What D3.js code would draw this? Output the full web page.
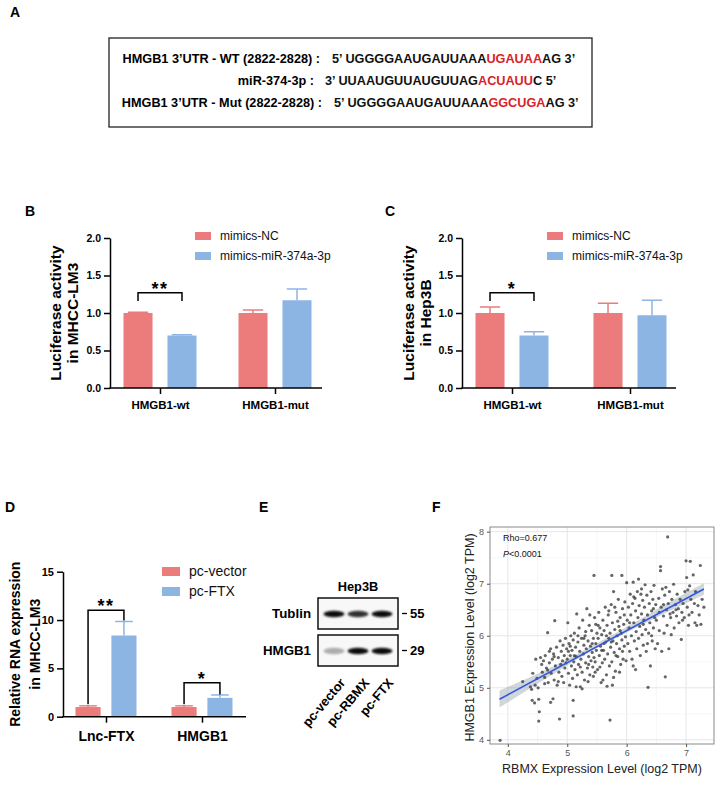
<!DOCTYPE html>
<html><head><meta charset="utf-8">
<script src="https://cdn.jsdelivr.net/npm/d3@7"></script>
<style>
body{margin:0;background:#fff}
svg{display:block}
text{font-family:Arial,'Liberation Sans',sans-serif}
</style>
</head><body>
<svg id="c" width="721" height="785"></svg>
<script>
// ---------------- DATA ----------------
const seqLabels = ["HMGB1 3’UTR - WT (2822-2828) :", "miR-374-3p  :", "HMGB1 3’UTR - Mut (2822-2828) :"];
const seqParts = [
  ["5’ UGGGGAAUGAUUAAA", "UGAUAA", "AG 3’"],
  ["3’ UUAAUGUUAUGUUAG", "ACUAUU", "C 5’"],
  ["5’ UGGGGAAUGAUUAAA", "GGCUGA", "AG 3’"]
];

const lucGroups = ["HMGB1-wt", "HMGB1-mut"];
const lucSeries = ["mimics-NC", "mimics-miR-374a-3p"];
const lucLM3Mean = [[1.00, 0.70], [1.00, 1.17]];
const lucLM3Err  = [[0.01, 0.01], [0.04, 0.15]];
const lucHep3BMean = [[1.00, 0.70], [1.00, 0.97]];
const lucHep3BErr  = [[0.08, 0.05], [0.13, 0.20]];
const lucTicks = [0, 0.5, 1.0, 1.5, 2.0];

const rnaGroups = ["Lnc-FTX", "HMGB1"];
const rnaSeries = ["pc-vector", "pc-FTX"];
const rnaMean = [[1.0, 8.4], [1.0, 1.95]];
const rnaErr  = [[0.12, 1.45], [0.12, 0.30]];
const rnaTicks = [0, 5, 10, 15];

const blotLanes = ["pc-vector", "pc-RBMX", "pc-FTX"];
const blotRows = ["Tublin", "HMGB1"];
const blotMarkers = ["55", "29"];
const blotIntensity = [[0.95, 0.80, 0.95], [0.30, 0.95, 0.95]];

const scatterPts = [
[3.87,3.99],[4.25,5.12],[4.40,4.97],[4.41,4.76],[4.45,4.71],[4.38,5.02],[4.47,5.55],[4.49,5.18],[4.42,5.28],[4.46,5.05],
[4.51,5.00],[4.52,4.78],[4.53,4.54],[4.52,4.36],[4.55,5.58],[4.57,5.45],[4.58,5.30],[4.60,5.52],[4.62,5.20],[4.63,5.62],
[4.65,5.38],[4.67,6.06],[4.67,5.34],[4.68,5.10],[4.70,5.48],[4.72,4.72],[4.72,5.75],[4.73,5.28],[4.75,5.55],[4.76,4.79],
[4.77,5.65],[4.78,5.15],[4.79,6.29],[4.80,5.42],[4.82,5.78],[4.83,5.05],[4.85,5.58],[4.86,5.30],[4.87,4.40],[4.88,5.90],
[4.89,5.45],[4.90,5.70],[4.91,5.22],[4.92,5.52],[4.93,5.82],[4.94,5.10],[4.95,5.62],[4.96,5.38],[4.97,5.95],[4.98,5.48],
[4.99,5.75],[4.85,5.12],[4.78,5.60],[4.70,5.70],[4.62,5.08],
[5.00,5.55],[5.01,6.25],[5.02,5.28],[5.03,5.85],[5.04,5.05],[5.05,5.62],[5.06,6.00],[5.07,5.42],[5.08,5.72],[5.09,5.18],
[5.10,4.46],[5.10,4.76],[5.10,5.92],[5.11,5.50],[5.12,6.05],[5.13,5.35],[5.14,5.78],[5.15,5.60],[5.16,6.42],[5.17,5.25],
[5.18,5.88],[5.19,5.45],[5.20,6.15],[5.21,5.70],[5.22,5.02],[5.23,5.55],[5.24,5.95],[5.25,5.30],[5.26,6.30],[5.27,5.65],
[5.28,5.82],[5.29,5.15],[5.30,6.00],[5.31,5.48],[5.32,5.75],[5.33,6.52],[5.34,5.38],[5.35,5.90],[5.36,5.60],[5.37,6.20],
[5.38,5.25],[5.39,5.80],[5.40,5.52],[5.41,6.10],[5.42,5.68],[5.43,5.40],[5.44,5.95],[5.45,7.16],[5.45,5.58],[5.46,6.35],
[5.47,5.30],[5.48,5.85],[5.49,5.72],[5.50,6.05],[5.15,5.02],[5.22,5.40],[5.28,5.95],[5.35,5.12],[5.42,5.85],[5.05,5.80],
[5.18,6.00],[5.38,6.40],[5.47,5.50],[5.12,5.62],[5.31,6.08],[5.25,4.98],[5.44,5.22],[5.02,5.70],[5.36,5.45],[5.48,6.22],
[5.51,5.35],[5.52,5.95],[5.53,6.45],[5.54,5.62],[5.55,6.15],[5.56,5.80],[5.57,5.10],[5.58,6.02],[5.59,5.48],[5.60,6.30],
[5.61,5.72],[5.62,6.10],[5.63,5.55],[5.64,6.55],[5.65,5.88],[5.66,5.25],[5.67,5.03],[5.67,6.20],[5.68,5.65],[5.69,6.40],
[5.70,5.95],[5.71,5.42],[5.72,4.38],[5.72,6.05],[5.73,5.78],[5.74,6.60],[5.75,7.16],[5.75,5.50],[5.76,6.25],[5.77,5.90],
[5.78,6.85],[5.79,5.68],[5.80,6.12],[5.81,5.32],[5.82,6.45],[5.83,5.85],[5.84,6.00],[5.85,5.60],[5.86,6.70],[5.87,6.18],
[5.88,5.75],[5.89,6.35],[5.90,5.45],[5.91,6.05],[5.92,7.16],[5.92,5.92],[5.93,6.52],[5.94,5.55],[5.95,6.22],[5.96,5.80],
[5.97,6.65],[5.98,5.98],[5.99,5.52],[5.55,5.40],[5.62,5.85],[5.70,6.48],[5.78,5.20],[5.85,6.28],[5.93,5.70],[5.58,5.72],
[5.66,6.00],[5.74,5.88],[5.82,5.62],[5.89,6.10],[5.96,6.40],[5.60,5.15],[5.76,5.05],[5.88,5.30],[5.52,6.20],[5.80,6.55],
[6.00,7.02],[6.01,6.30],[6.02,5.85],[6.03,6.55],[6.04,6.15],[6.05,5.70],[6.06,6.80],[6.07,6.40],[6.08,6.00],[6.09,5.55],
[6.10,6.62],[6.11,7.03],[6.11,5.42],[6.12,6.25],[6.13,5.90],[6.14,6.72],[6.15,6.48],[6.16,6.08],[6.17,5.75],[6.18,6.85],
[6.19,6.35],[6.20,7.09],[6.20,5.95],[6.21,6.58],[6.22,6.18],[6.23,5.62],[6.24,6.80],[6.25,6.42],[6.26,6.02],[6.27,6.68],
[6.28,5.82],[6.29,6.30],[6.30,6.55],[6.31,6.98],[6.32,6.12],[6.33,5.70],[6.34,6.78],[6.35,6.40],[6.36,5.01],[6.37,6.05],
[6.38,6.62],[6.39,6.25],[6.40,5.42],[6.41,6.85],[6.42,6.48],[6.43,5.90],[6.44,6.70],[6.45,6.15],[6.46,6.97],[6.47,6.35],
[6.48,5.75],[6.49,6.60],[6.05,6.25],[6.15,5.35],[6.25,6.90],[6.35,5.85],[6.45,6.52],[6.12,6.75],[6.28,6.22],[6.42,6.00],
[6.50,6.30],[6.52,5.85],[6.54,6.72],[6.55,6.10],[6.57,7.33],[6.57,7.25],[6.58,6.55],[6.59,5.70],[6.60,6.90],[6.62,6.38],
[6.63,6.05],[6.64,6.78],[6.65,5.21],[6.66,6.93],[6.67,6.50],[6.68,6.20],[6.69,7.90],[6.70,6.62],[6.71,5.75],[6.72,6.85],
[6.74,6.35],[6.75,6.02],[6.76,6.70],[6.78,6.45],[6.79,6.99],[6.80,6.15],[6.82,6.60],[6.84,6.38],[6.85,6.80],[6.87,6.52],
[6.88,6.25],[6.90,6.70],[6.92,5.93],[6.93,6.45],[6.95,6.62],[6.97,6.35],[6.98,6.85],[6.55,6.45],[6.62,6.60],[6.73,6.42],
[6.83,6.50],[6.94,6.30],
[7.00,7.44],[7.01,7.12],[7.02,6.55],[7.03,6.88],[7.04,6.20],[7.06,6.96],[7.07,7.43],[7.08,6.70],[7.10,6.45],[7.12,7.17],
[7.14,6.62],[7.15,6.25],[7.16,6.85],[7.18,6.20],[7.20,6.58],[7.22,6.40],[7.24,7.35],[7.25,6.22],[7.27,6.70],[7.30,6.55],[7.05,6.40]
];
const fitLine = [[3.86, 4.78], [7.30, 6.90]];
const fitCI = [[3.86,4.62,4.95],[4.5,5.08,5.27],[5.0,5.43,5.55],[5.6,5.83,5.92],[6.2,6.18,6.30],[6.8,6.52,6.70],[7.3,6.79,7.01]];
const xTicksF = [4, 5, 6, 7];
const yTicksF = [4, 5, 6, 7, 8];

// ---------------- DRAW ----------------
const svg = d3.select("#c");
const RED = "#EC7B7B", BLUE = "#8DB5E3";
const colors = [RED, BLUE];
const FONT = "Arial,'Liberation Sans',sans-serif";

function panelLabel(t, x, y) {
  svg.append("text").attr("x", x).attr("y", y).text(t)
    .attr("font-size", 14).attr("font-weight", "bold");
}

// ---- Panel A ----
panelLabel("A", 10, 17);
svg.append("rect").attr("x", 109).attr("y", 38).attr("width", 483).attr("height", 89)
  .attr("fill", "none").attr("stroke", "#222").attr("stroke-width", 1.3);
const seqLabelEnd = [320, 314, 322];
const seqStart = [332, 325, 334];
const seqBase = [63, 85, 107];
seqLabels.forEach((s, i) => {
  svg.append("text").attr("x", seqLabelEnd[i]).attr("y", seqBase[i]).attr("text-anchor", "end")
    .attr("font-size", 12.7).attr("font-weight", "bold").text(s);
  const t = svg.append("text").attr("x", seqStart[i]).attr("y", seqBase[i])
    .attr("font-size", 12.7).attr("font-weight", "bold");
  seqParts[i].forEach((p, j) => {
    t.append("tspan").attr("fill", j === 1 ? "#D8232A" : "#111").text(p);
  });
});

// ---- generic bar chart ----
function barChart(o) {
  const g = svg.append("g");
  const y = d3.scaleLinear().domain(o.yDomain).range([o.yBot, o.yTop]);
  const x0 = d3.scalePoint().domain(o.groups).range(o.centers);
  const x1 = d3.scaleBand().domain(o.series).range([-o.half, o.half]).paddingInner(o.pad);
  const bw = x1.bandwidth();
  o.groups.forEach((gname, gi) => {
    o.series.forEach((s, si) => {
      const xl = x0(gname) + x1(s);
      const m = o.mean[gi][si], e = o.err[gi][si];
      g.append("rect").attr("x", xl).attr("y", y(m)).attr("width", bw).attr("height", y(0) - y(m))
        .attr("fill", colors[si]);
      const cx = xl + bw / 2;
      g.append("line").attr("x1", cx).attr("x2", cx).attr("y1", y(m)).attr("y2", y(m + e))
        .attr("stroke", colors[si]).attr("stroke-width", 1.5);
      g.append("line").attr("x1", cx - bw * 0.35).attr("x2", cx + bw * 0.35).attr("y1", y(m + e)).attr("y2", y(m + e))
        .attr("stroke", colors[si]).attr("stroke-width", 1.5);
    });
  });
  const ya = g.append("g").attr("transform", `translate(${o.axisX},0)`)
    .call(d3.axisLeft(y).tickValues(o.ticks).tickFormat(o.fmt).tickSize(6).tickSizeOuter(0));
  ya.selectAll("path,line").attr("stroke", "#000").attr("stroke-width", 1.5);
  ya.selectAll("text").attr("font-size", o.tickFs).attr("font-weight", "bold").attr("fill", "#000")
    .attr("font-family", FONT);
  const xa = g.append("g").attr("transform", `translate(0,${y(0)})`)
    .call(d3.axisBottom(x0).tickSize(6).tickSizeOuter(0));
  xa.select(".domain").remove();
  xa.append("line").attr("x1", o.axisX - 0.75).attr("x2", o.axisEnd).attr("y1", 0).attr("y2", 0)
    .attr("stroke", "#000").attr("stroke-width", 1.5);
  xa.selectAll(".tick line").attr("stroke", "#000").attr("stroke-width", 1.5);
  xa.selectAll("text").attr("font-size", o.xFs).attr("font-weight", "bold").attr("fill", "#000")
    .attr("dy", o.xDy).attr("font-family", FONT);
  const cy = (o.yTop + o.yBot) / 2;
  o.ylab.forEach((l, i) => {
    g.append("text").attr("transform", `translate(${o.ylabX[i]},${cy}) rotate(-90)`)
      .attr("text-anchor", "middle").attr("font-size", o.ylabFs).attr("font-weight", "bold").text(l);
  });
  o.series.forEach((s, si) => {
    const ly = o.legY + si * o.legDy;
    g.append("rect").attr("x", o.legX).attr("y", ly - o.legH).attr("width", o.legW).attr("height", o.legH)
      .attr("fill", colors[si]);
    g.append("text").attr("x", o.legX + o.legW + 9).attr("y", ly).attr("font-size", o.legFs).text(s)
      .attr("fill", "#111");
  });
  o.sig.forEach(sg => {
    const xa1 = x0(o.groups[sg.g]) + x1(o.series[0]) + bw / 2;
    const xa2 = x0(o.groups[sg.g]) + x1(o.series[1]) + bw / 2;
    g.append("path").attr("d", `M${xa1},${y(sg.l)}V${y(sg.y)}H${xa2}V${y(sg.r)}`)
      .attr("fill", "none").attr("stroke", "#000").attr("stroke-width", 1.5);
    g.append("text").attr("x", (xa1 + xa2) / 2).attr("y", y(sg.y) + sg.dy).attr("text-anchor", "middle")
      .attr("font-size", sg.fs).attr("font-weight", "bold").attr("letter-spacing", 1.5).text(sg.t);
  });
}

// ---- Panel B ----
panelLabel("B", 25, 216);
barChart({
  groups: lucGroups, series: lucSeries, mean: lucLM3Mean, err: lucLM3Err,
  yDomain: [0, 2], yTop: 238, yBot: 388, axisX: 110, axisEnd: 322, centers: [160, 275],
  half: 36.5, pad: 0.34, ticks: lucTicks, fmt: d3.format(".1f"), tickFs: 10.5, xFs: 11.5, xDy: "1.05em",
  ylab: ["Luciferase activity", "in MHCC-LM3"], ylabX: [61, 78], ylabFs: 15.5,
  legX: 195, legY: 240, legDy: 20, legW: 16, legH: 8, legFs: 12,
  sig: [{ g: 0, y: 1.27, l: 1.16, r: 1.16, t: "**", fs: 18, dy: 2 }]
});

// ---- Panel C ----
panelLabel("C", 385, 216);
barChart({
  groups: lucGroups, series: lucSeries, mean: lucHep3BMean, err: lucHep3BErr,
  yDomain: [0, 2], yTop: 238, yBot: 388, axisX: 462, axisEnd: 676, centers: [512, 630],
  half: 36.5, pad: 0.34, ticks: lucTicks, fmt: d3.format(".1f"), tickFs: 10.5, xFs: 11.5, xDy: "1.05em",
  ylab: ["Luciferase activity", "in Hep3B"], ylabX: [414, 431], ylabFs: 15.5,
  legX: 547, legY: 240, legDy: 20, legW: 16, legH: 8, legFs: 12,
  sig: [{ g: 0, y: 1.27, l: 1.16, r: 1.16, t: "*", fs: 18, dy: 2 }]
});

// ---- Panel D ----
panelLabel("D", 5, 512);
barChart({
  groups: rnaGroups, series: rnaSeries, mean: rnaMean, err: rnaErr,
  yDomain: [0, 15], yTop: 571.7, yBot: 716.7, axisX: 63, axisEnd: 246, centers: [106, 202],
  half: 30.5, pad: 0.3, ticks: rnaTicks, fmt: d3.format("d"), tickFs: 11, xFs: 14, xDy: "1.1em",
  ylab: ["Relative RNA expression", "in MHCC-LM3"], ylabX: [20, 40], ylabFs: 14,
  legX: 162, legY: 576, legDy: 20, legW: 18, legH: 9, legFs: 14,
  sig: [{ g: 0, y: 11.0, l: 1.3, r: 9.95, t: "**", fs: 18, dy: 2 },
        { g: 1, y: 3.5, l: 1.3, r: 2.3, t: "*", fs: 18, dy: 2 }]
});

// ---- Panel E ----
panelLabel("E", 259, 512);
const lane = d3.scalePoint().domain(blotLanes).range([334, 382]);
const rowY = d3.scalePoint().domain(blotRows).range([613.5, 650.5]);
const defs = svg.append("defs");
defs.append("filter").attr("id", "blur").attr("x", "-30%").attr("y", "-100%").attr("width", "160%").attr("height", "300%")
  .append("feGaussianBlur").attr("stdDeviation", 1.3);
svg.append("text").attr("x", 358).attr("y", 591).attr("text-anchor", "middle")
  .attr("font-size", 12.8).attr("font-weight", "bold").text("Hep3B");
blotRows.forEach((r, ri) => {
  const cy = rowY(r);
  svg.append("rect").attr("x", 318).attr("y", cy - 15.5).attr("width", 80).attr("height", 31)
    .attr("fill", "#f8f8f8").attr("stroke", "#111").attr("stroke-width", 1.5);
  blotLanes.forEach((l, li) => {
    const v = blotIntensity[ri][li];
    svg.append("ellipse").attr("cx", lane(l)).attr("cy", cy + 0.5).attr("rx", 10.5).attr("ry", 3.2)
      .attr("fill", "#000").attr("opacity", v).attr("filter", "url(#blur)");
  });
  svg.append("text").attr("x", 311).attr("y", cy + 4.5).attr("text-anchor", "end")
    .attr("font-size", 13.3).attr("font-weight", "bold").text(r);
  svg.append("line").attr("x1", 402).attr("x2", 407).attr("y1", cy).attr("y2", cy)
    .attr("stroke", "#000").attr("stroke-width", 1.3);
  svg.append("text").attr("x", 410).attr("y", cy + 4.5).attr("font-size", 13).attr("font-weight", "bold")
    .text(blotMarkers[ri]);
});
blotLanes.forEach(l => {
  svg.append("text").attr("transform", `translate(${lane(l) + 12},${683}) rotate(-50)`)
    .attr("text-anchor", "end").attr("font-size", 13).attr("font-weight", "bold").text(l);
});

// ---- Panel F ----
panelLabel("F", 432, 512);
const fx = d3.scaleLinear().domain([3.70, 7.47]).range([490, 714]);
const fy = d3.scaleLinear().domain([3.92, 8.09]).range([744, 527]);
const fg = svg.append("g");
const [fx0, fx1] = fx.range(), [fy0, fy1] = fy.range();
fg.append("rect").attr("x", fx0).attr("y", fy1).attr("width", fx1 - fx0).attr("height", fy0 - fy1).attr("fill", "#fff");
const minorX = [4.5, 5.5, 6.5], minorY = [4.5, 5.5, 6.5, 7.5];
minorX.forEach(v => fg.append("line").attr("x1", fx(v)).attr("x2", fx(v)).attr("y1", fy1).attr("y2", fy0)
  .attr("stroke", "#f2f2f2").attr("stroke-width", 0.6));
minorY.forEach(v => fg.append("line").attr("y1", fy(v)).attr("y2", fy(v)).attr("x1", fx0).attr("x2", fx1)
  .attr("stroke", "#f2f2f2").attr("stroke-width", 0.6));
xTicksF.forEach(v => fg.append("line").attr("x1", fx(v)).attr("x2", fx(v)).attr("y1", fy1).attr("y2", fy0)
  .attr("stroke", "#e6e6e6").attr("stroke-width", 1));
yTicksF.forEach(v => fg.append("line").attr("y1", fy(v)).attr("y2", fy(v)).attr("x1", fx0).attr("x2", fx1)
  .attr("stroke", "#e6e6e6").attr("stroke-width", 1));
fg.append("path").datum(fitCI)
  .attr("d", d3.area().x(d => fx(d[0])).y0(d => fy(d[1])).y1(d => fy(d[2])).curve(d3.curveMonotoneX))
  .attr("fill", "#9aa4ad").attr("opacity", 0.45);
fg.selectAll("circle.pt").data(scatterPts).join("circle").attr("class", "pt")
  .attr("cx", d => fx(d[0])).attr("cy", d => fy(d[1])).attr("r", 1.6)
  .attr("fill", "#333").attr("opacity", 0.75);
fg.append("path").datum(fitLine).attr("d", d3.line().x(d => fx(d[0])).y(d => fy(d[1])))
  .attr("stroke", "#3358E0").attr("stroke-width", 1.6).attr("fill", "none");
fg.append("rect").attr("x", fx0).attr("y", fy1).attr("width", fx1 - fx0).attr("height", fy0 - fy1)
  .attr("fill", "none").attr("stroke", "#8a8a8a").attr("stroke-width", 1);
const fxa = fg.append("g").attr("transform", `translate(0,${fy0})`)
  .call(d3.axisBottom(fx).tickValues(xTicksF).tickFormat(d3.format("d")).tickSize(3).tickSizeOuter(0));
fxa.select(".domain").remove();
fxa.selectAll("line").attr("stroke", "#555");
fxa.selectAll("text").attr("fill", "#555").attr("font-size", 9).attr("font-family", FONT);
const fya = fg.append("g").attr("transform", `translate(${fx0},0)`)
  .call(d3.axisLeft(fy).tickValues(yTicksF).tickFormat(d3.format("d")).tickSize(3).tickSizeOuter(0));
fya.select(".domain").remove();
fya.selectAll("line").attr("stroke", "#555");
fya.selectAll("text").attr("fill", "#555").attr("font-size", 9).attr("font-family", FONT);
fg.append("text").attr("x", 602).attr("y", 773).attr("text-anchor", "middle").attr("font-size", 12.5)
  .attr("fill", "#222").text("RBMX Expression Level (log2 TPM)");
fg.append("text").attr("transform", "translate(474,637.5) rotate(-90)").attr("text-anchor", "middle")
  .attr("font-size", 12.5).attr("fill", "#222").text("HMGB1 Expression Level (log2 TPM)");
fg.append("text").attr("x", 503).attr("y", 541).attr("font-size", 9).attr("fill", "#111").text("Rho=0.677");
const pt = fg.append("text").attr("x", 503).attr("y", 557).attr("font-size", 9).attr("fill", "#111");
pt.append("tspan").attr("font-style", "italic").text("P");
pt.append("tspan").text("<0.0001");
</script>
</body></html>
